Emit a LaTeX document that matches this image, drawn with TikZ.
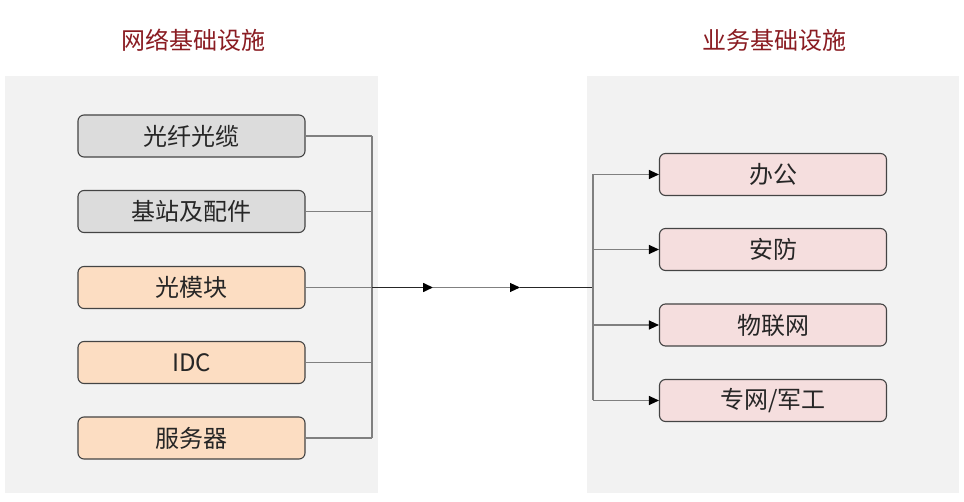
\documentclass[tikz,border=0pt]{standalone}
\usepackage{fontspec}
\setmainfont{Noto Sans CJK SC}
\usetikzlibrary{arrows.meta}
\definecolor{panelgray}{HTML}{F2F2F2}
\definecolor{boxborder}{HTML}{444444}
\definecolor{graybox}{HTML}{DCDCDC}
\definecolor{orangebox}{HTML}{FCDDC2}
\definecolor{pinkbox}{HTML}{F5DEDE}
\definecolor{titlered}{HTML}{8A1C22}
\definecolor{linegray}{HTML}{808080}
\begin{document}
\begin{tikzpicture}[x=1pt,y=-1pt,
  panel/.style={fill=panelgray, draw=none},
  box/.style={draw=boxborder, line width=1.1pt, rounded corners=6pt,
    minimum width=227pt, minimum height=42pt, inner sep=0pt,
    font=\fontsize{24}{26}\selectfont, text=black!85},
  gbox/.style={box, fill=graybox},
  obox/.style={box, fill=orangebox},
  pbox/.style={box, fill=pinkbox},
  title/.style={font=\fontsize{24}{26}\selectfont, text=titlered},
  conn/.style={draw=linegray, line width=1.1pt},
  bconn/.style={draw=black!85, line width=1.6pt},
  tip/.style={-{Triangle[length=10pt,width=9pt,color=black,fill=black]}}
]
\useasboundingbox (0,0) rectangle (964,502);
\fill[white] (0,0) rectangle (964,502);
\fill[panelgray] (5,76) rectangle (378,493);
\fill[panelgray] (587,76) rectangle (959,493);

\node[title] (t1) at (193,40) {网络基础设施};
\node[title] (t2) at (774,40) {业务基础设施};

\node[gbox] (l1) at (191.5,136) {光纤光缆};
\node[gbox] (l2) at (191.5,211.5) {基站及配件};
\node[obox] (l3) at (191.5,287.5) {光模块};
\node[obox] (l4) at (191.5,362.5) {IDC};
\node[obox] (l5) at (191.5,438) {服务器};

\node[pbox] (r1) at (773,174.5) {办公};
\node[pbox] (r2) at (773,249.5) {安防};
\node[pbox] (r3) at (773,325) {物联网};
\node[pbox] (r4) at (773,400.5) {专网/军工};

\coordinate (lb1) at (372,136);
\coordinate (lb5) at (372,438);
\coordinate (lm) at (372,287.5);
\coordinate (a1) at (433,287.5);
\coordinate (a2) at (520,287.5);
\coordinate (rm) at (593,287.5);
\coordinate (rb1) at (593,174.5);
\coordinate (rb2) at (593,249.5);
\coordinate (rb3) at (593,325);
\coordinate (rb4) at (593,400.5);

% left bus
\draw[conn] (l1.east) -- (lb1);
\draw[conn] (l2.east) -- (l2.east -| lb1);
\draw[conn] (l3.east) -- (lm);
\draw[conn] (l4.east) -- (l4.east -| lb1);
\draw[conn] (l5.east) -- (lb5);
\draw[conn] (lb1) -- (lb5);

% middle chain
\draw[bconn, tip] (lm) -- (a1);
\draw[conn, tip] (a1) -- (a2);
\draw[bconn] (a2) -- (rm);

% right bus
\draw[conn] (rb1) -- (rb4);
\draw[conn, tip] (rb1) -- (r1.west);
\draw[conn, tip] (rb2) -- (r2.west);
\draw[conn, tip] (rb3) -- (r3.west);
\draw[conn, tip] (rb4) -- (r4.west);
\end{tikzpicture}
\end{document}
